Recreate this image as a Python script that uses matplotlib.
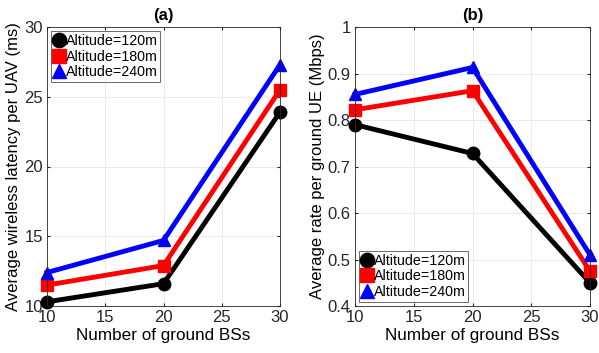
import matplotlib
matplotlib.use('Agg')
import matplotlib.pyplot as plt

plt.rcParams['font.family'] = ['Liberation Sans', 'DejaVu Sans']

bs = [10, 20, 30]
altitudes = ["Altitude=120m", "Altitude=180m", "Altitude=240m"]

latency_120 = [10.3, 11.6, 23.9]
latency_180 = [11.5, 12.9, 25.5]
latency_240 = [12.4, 14.7, 27.3]

rate_120 = [0.79, 0.728, 0.45]
rate_180 = [0.822, 0.863, 0.475]
rate_240 = [0.855, 0.913, 0.51]

colors = ["black", "red", "blue"]
markers = ["o", "s", "^"]

fig = plt.figure(figsize=(5.99, 3.53), dpi=100)
ax1 = fig.add_axes([47/599, 1 - 306/353, 233/599, 279/353])
ax2 = fig.add_axes([355/599, 1 - 306/353, 235/599, 279/353])

for ys, c, m, lab in zip([latency_120, latency_180, latency_240], colors, markers, altitudes):
    ax1.plot(bs, ys, color=c, marker=m, lw=3.5, ms=9, label=lab, clip_on=False)
for ys, c, m, lab in zip([rate_120, rate_180, rate_240], colors, markers, altitudes):
    ax2.plot(bs, ys, color=c, marker=m, lw=3.5, ms=9, label=lab, clip_on=False)

ax1.set_xlim(10, 30)
ax1.set_ylim(10, 30)
ax1.set_xticks([10, 15, 20, 25, 30])
ax1.set_yticks([10, 15, 20, 25, 30])
ax1.set_xlabel("Number of ground BSs", fontsize=12.3, labelpad=2)
ax1.set_ylabel("Average wireless latency per UAV (ms)", fontsize=12, labelpad=2)
ax1.set_title("(a)", fontsize=12, fontweight="bold", pad=5)

ax2.set_xlim(10, 30)
ax2.set_ylim(0.4, 1.0)
ax2.set_xticks([10, 15, 20, 25, 30])
ax2.set_yticks([0.4, 0.5, 0.6, 0.7, 0.8, 0.9, 1.0])
ax2.set_yticklabels(["0.4", "0.5", "0.6", "0.7", "0.8", "0.9", "1"])
ax2.set_xlabel("Number of ground BSs", fontsize=12.3, labelpad=2)
ax2.set_ylabel("Average rate per ground UE (Mbps)", fontsize=12, labelpad=2)
ax2.set_title("(b)", fontsize=12, fontweight="bold", pad=5)

for ax in [ax1, ax2]:
    ax.grid(True, color="#e6e6e6", lw=0.6)
    ax.set_axisbelow(True)
    ax.tick_params(labelsize=12, labelcolor="#262626", direction="in", length=2.5,
                   color="#262626", top=True, right=True, pad=3)
    for s in ax.spines.values():
        s.set_color("#262626")
        s.set_linewidth(0.6)

leg_kw = dict(fontsize=10.3, frameon=True, fancybox=False, edgecolor="#262626",
              handlelength=0.7, handletextpad=0.1, borderpad=0.2, labelspacing=0.1,
              borderaxespad=0.3, markerscale=1.15)
l1 = ax1.legend(loc="upper left", **leg_kw)
l2 = ax2.legend(loc="lower left", **leg_kw)
for l in [l1, l2]:
    l.get_frame().set_linewidth(0.6)
    for h in l.legend_handles:
        h.set_linewidth(0)

fig.savefig("out.png", dpi=100)
